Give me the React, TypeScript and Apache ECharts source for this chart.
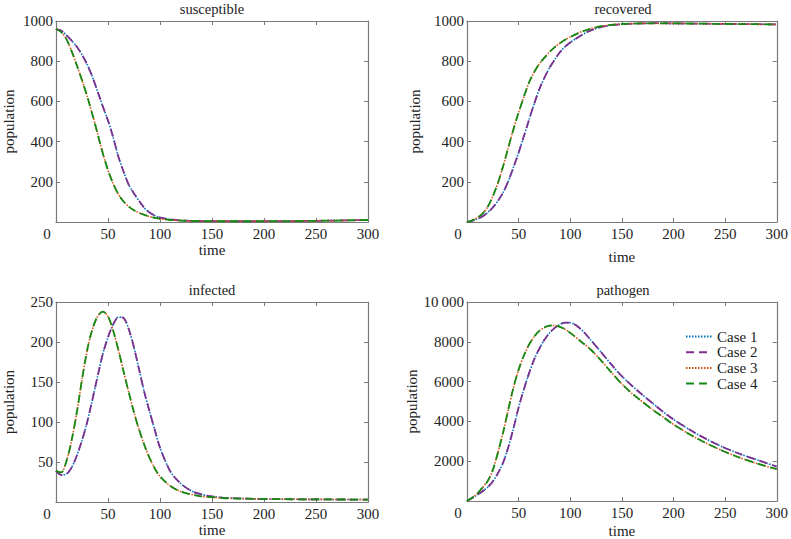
import React, { useEffect, useRef } from "react";
import * as echarts from "echarts";

// time grid (shared by every curve)
const time = [
  0, 5, 10, 15, 20, 25, 30, 35, 40, 45, 50, 55, 60, 65, 70, 75, 80, 85, 90, 95, 100,
  110, 120, 130, 140, 150, 160, 170, 180, 190, 200,
  220, 240, 260, 280, 300,
];

// Cases 1 & 2 overlap exactly in the picture; Cases 3 & 4 overlap exactly too.
const susceptibleLate = [
  960, 952, 930, 903, 872, 832, 783, 722, 650, 575, 505, 420, 325, 250, 185, 142, 104, 70, 47, 32, 22,
  13, 8, 6, 5, 4.5, 4, 4, 3.8, 3.8, 3.8,
  4.3, 5.2, 6.5, 8, 10,
];
const susceptibleEarly = [
  960, 945, 910, 850, 780, 705, 625, 535, 440, 342, 258, 190, 138, 102, 77, 58, 45, 35, 27, 21, 16,
  10, 7, 5.5, 4.5, 4, 3.8, 3.7, 3.7, 3.7, 3.8,
  4.3, 5.2, 6.5, 8, 10,
];
const recoveredLate = [
  0, 6, 15, 28, 47, 72, 105, 147, 203, 272, 345, 425, 507, 587, 660, 718, 768, 808, 845, 872, 893,
  927, 953, 970, 979, 984, 987, 988, 989, 989, 988,
  987, 986, 985, 984, 983,
];
const recoveredEarly = [
  0, 8, 22, 42, 75, 128, 195, 278, 370, 462, 545, 622, 693, 745, 786, 818, 846, 870, 890, 907, 921,
  945, 962, 974, 981, 985, 987, 988, 988, 988, 988,
  987, 986, 985, 984, 983,
];
const infectedLate = [
  39, 34, 35, 43, 58, 77, 100, 128, 157, 185, 206, 222, 231, 230, 216, 193, 165, 137, 113, 90, 68,
  38, 23, 14, 9.5, 7, 5.5, 4.8, 4.3, 4, 3.8,
  3.5, 3.3, 3.2, 3.1, 3,
];
const infectedEarly = [
  39, 37, 51, 77, 112, 153, 190, 216, 232, 238, 232, 214, 190, 163, 137, 112, 90, 71, 55, 42, 32,
  20, 13, 9.5, 7, 6, 5, 4.5, 4.2, 4, 3.8,
  3.5, 3.3, 3.2, 3.1, 3,
];
const pathogenLate = [
  0, 150, 310, 490, 690, 980, 1400, 1930, 2700, 3650, 4700, 5600, 6400, 7100, 7650, 8100, 8450, 8700, 8880, 8960, 8960,
  8650, 8080, 7470, 6850, 6270, 5780, 5330, 4900, 4480, 4100,
  3450, 2900, 2450, 2080, 1730,
];
const pathogenEarly = [
  0, 160, 380, 670, 1000, 1550, 2450, 3450, 4600, 5700, 6600, 7300, 7850, 8250, 8550, 8720, 8810, 8820, 8750, 8630, 8450,
  8030, 7600, 7050, 6450, 5880, 5400, 4980, 4580, 4220, 3850,
  3220, 2700, 2260, 1900, 1600,
];

const caseNames = ["Case 1", "Case 2", "Case 3", "Case 4"];
const caseColors = ["#0072BD", "#7E2F8E", "#D95319", "#138a13"];
const panelTitles = ["susceptible", "recovered", "infected", "pathogen"];
const yMax = [1000, 1000, 250, 10000];
const yStep = [200, 200, 50, 2000];
const xTicks = { min: 0, max: 300, step: 50 };

const panelData = [
  [susceptibleLate, susceptibleLate, susceptibleEarly, susceptibleEarly],
  [recoveredLate, recoveredLate, recoveredEarly, recoveredEarly],
  [infectedLate, infectedLate, infectedEarly, infectedEarly],
  [pathogenLate, pathogenLate, pathogenEarly, pathogenEarly],
];

const FONT = "Liberation Serif";
const AXIS_COLOR = "#7a7a7a";

export default function App() {
  const ref = useRef<HTMLDivElement>(null);

  useEffect(() => {
    if (!ref.current) return;
    const chart = echarts.init(ref.current, undefined, { renderer: "svg" });

    const grids = [
      { left: 56, top: 21, width: 312, height: 201 },
      { left: 467, top: 21, width: 312, height: 201 },
      { left: 56, top: 302, width: 312, height: 200 },
      { left: 467, top: 302, width: 312, height: 200 },
    ];
    const titleTops = [1, 1, 282, 282];
    const xNameGaps = [20, 27, 20, 22];
    const yNameGaps = [40, 45, 40, 45];

    const xAxes: any[] = [];
    const yAxes: any[] = [];
    const series: any[] = [];

    grids.forEach((g, i) => {
      const tickStyle = { inside: true, length: 4, lineStyle: { color: AXIS_COLOR } };
      const lineStyle = { show: true, onZero: false, lineStyle: { color: AXIS_COLOR, width: 1.2 } };
      xAxes.push({
        gridIndex: i,
        type: "value",
        position: "bottom",
        min: xTicks.min,
        max: xTicks.max,
        interval: xTicks.step,
        axisLine: lineStyle,
        axisTick: tickStyle,
        splitLine: { show: false },
        name: "time",
        nameLocation: "middle",
        nameGap: xNameGaps[i],
        nameTextStyle: { fontFamily: FONT, fontSize: 15, color: "#222" },
        axisLabel: {
          margin: 4,
          fontFamily: FONT,
          fontSize: 15,
          color: "#222",
          formatter: (v: number) => (v === 0 ? "{z|0}" : String(v)),
          rich: { z: { fontFamily: FONT, fontSize: 15, color: "#222", padding: [0, 18, 0, 0] } },
        },
      });
      xAxes.push({
        gridIndex: i,
        type: "value",
        position: "top",
        min: xTicks.min,
        max: xTicks.max,
        interval: xTicks.step,
        axisLine: lineStyle,
        axisTick: tickStyle,
        axisLabel: { show: false },
        splitLine: { show: false },
      });
      yAxes.push({
        gridIndex: i,
        type: "value",
        position: "left",
        min: 0,
        max: yMax[i],
        interval: yStep[i],
        axisLine: lineStyle,
        axisTick: tickStyle,
        splitLine: { show: false },
        name: "population",
        nameLocation: "middle",
        nameGap: yNameGaps[i],
        nameTextStyle: { fontFamily: FONT, fontSize: 15, color: "#222" },
        axisLabel: {
          margin: 3,
          fontFamily: FONT,
          fontSize: 15,
          color: "#222",
          formatter: (v: number) => (v === 0 ? "" : v >= 10000 ? "10\u2009000" : String(v)),
        },
      });
      yAxes.push({
        gridIndex: i,
        type: "value",
        position: "right",
        min: 0,
        max: yMax[i],
        interval: yStep[i],
        axisLine: lineStyle,
        axisTick: tickStyle,
        axisLabel: { show: false },
        splitLine: { show: false },
      });

      panelData[i].forEach((vals, c) => {
        const dashed = c % 2 === 1;
        series.push({
          type: "line",
          name: caseNames[c],
          xAxisIndex: 2 * i,
          yAxisIndex: 2 * i,
          data: time.map((t, k) => [t, vals[k]]),
          showSymbol: false,
          symbol: "none",
          smooth: 0.3,
          color: caseColors[c],
          lineStyle: {
            color: caseColors[c],
            width: dashed ? 1.8 : 1.6,
            type: dashed ? [8, 5] : [1.5, 1.5],
          },
          z: 2 + c,
        });
      });
    });

    chart.setOption({
      animation: false,
      backgroundColor: "#ffffff",
      title: panelTitles.map((t, i) => ({
        text: t,
        left: grids[i].left + grids[i].width / 2,
        top: titleTops[i],
        textAlign: "center",
        padding: 0,
        textStyle: { fontFamily: FONT, fontSize: 14.5, fontWeight: "normal", color: "#222" },
      })),
      legend: {
        data: caseNames,
        orient: "vertical",
        left: 685,
        top: 329,
        itemWidth: 26,
        itemHeight: 14,
        itemGap: 0.7,
        padding: 0,
        itemStyle: { opacity: 0 },
        textStyle: { fontFamily: FONT, fontSize: 15, lineHeight: 14, color: "#222" },
      },
      grid: grids,
      xAxis: xAxes,
      yAxis: yAxes,
      series,
    });

    return () => chart.dispose();
  }, []);

  return (
    <div
      ref={ref}
      style={{ position: "fixed", left: 0, top: 0, width: 791, height: 539, background: "#fff" }}
    />
  );
}
